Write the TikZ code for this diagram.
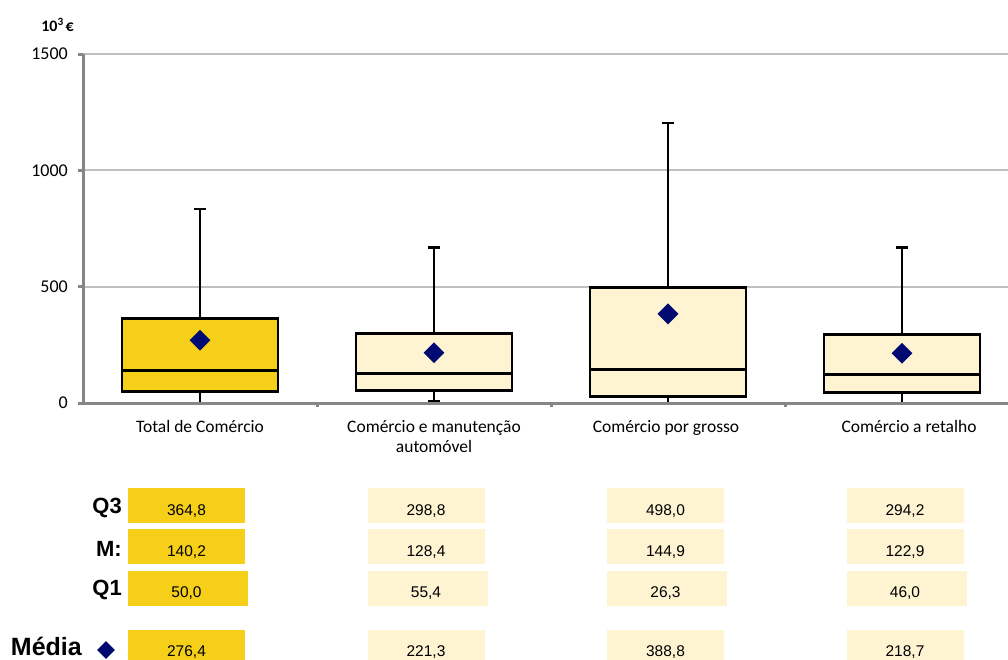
\documentclass[tikz,border=0pt]{standalone}
\usepackage{fontspec}
\setmainfont{Carlito}
\newfontfamily\arialf{Liberation Sans}
\usetikzlibrary{shapes.geometric}
\definecolor{darkyel}{HTML}{F6D018}
\definecolor{lightyel}{HTML}{FEF4D2}
\definecolor{navy}{HTML}{000A70}
\definecolor{gridgray}{HTML}{C0C0C0}
\definecolor{axisgray}{HTML}{868686}
\tikzset{
  gridline/.style={draw=gridgray, line width=2pt},
  axisline/.style={draw=axisgray, line width=3pt},
  boxline/.style={draw=black, line width=2.8pt},
  whisk/.style={draw=black, line width=2.2pt},
  meanmark/.style={diamond, fill=navy, draw=none, minimum width=21pt, minimum height=21pt, inner sep=0pt},
  ylab/.style={anchor=east, font=\fontsize{18}{20}\selectfont, inner sep=0pt},
  catlab/.style={align=center, font=\fontsize{17.5}{20}\selectfont, inner sep=0pt},
  rowlab/.style={anchor=east, font=\arialf\bfseries\fontsize{22}{24}\selectfont, inner sep=0pt},
  cellbox/.style={draw=none, inner sep=0pt, minimum width=117pt, minimum height=35pt},
  cellnum/.style={font=\arialf\fontsize{15.5}{17}\selectfont, inner sep=0pt}
}
\newcommand\yv[1]{403-0.23267*#1}
\newcommand\drawbxp[7]{%
  % #1 center x, #2 min, #3 q1, #4 median, #5 q3, #6 max, #7 fill
  \pgfmathsetmacro\ymin{\yv{#2}}
  \pgfmathsetmacro\yqa{\yv{#3}}
  \pgfmathsetmacro\ymed{\yv{#4}}
  \pgfmathsetmacro\yqc{\yv{#5}}
  \pgfmathsetmacro\ymax{\yv{#6}}
  \draw[whisk] (#1,\yqc) -- (#1,\ymax);
  \draw[whisk] (#1-6,\ymax) -- (#1+6,\ymax);
  \draw[whisk] (#1,\yqa) -- (#1,\ymin);
  \draw[whisk] (#1-6,\ymin) -- (#1+6,\ymin);
  \draw[boxline, fill=#7] (#1-78,\yqa) rectangle (#1+78,\yqc);
  \draw[boxline] (#1-78,\ymed) -- (#1+78,\ymed);
}
\begin{document}
\begin{tikzpicture}[x=1pt,y=-1pt]
\useasboundingbox (0,0) rectangle (1008,659);
% grid
\foreach \v in {500,1000,1500}{
  \pgfmathsetmacro\yy{\yv{\v}}
  \draw[gridline] (83,\yy) -- (1008,\yy);
  \draw[axisline] (78,\yy) -- (83,\yy);
}
% boxes
\drawbxp{200}{0}{50.0}{140.2}{364.8}{834}{darkyel}
\drawbxp{434}{8}{55.4}{128.4}{298.8}{668}{lightyel}
\drawbxp{668}{0}{26.3}{144.9}{498.0}{1203}{lightyel}
\drawbxp{902}{0}{46.0}{122.9}{294.2}{668}{lightyel}
% means
\node[meanmark] (m1) at (200,{\yv{270}}) {};
\node[meanmark] (m2) at (434,{\yv{216}}) {};
\node[meanmark] (m3) at (668,{\yv{383}}) {};
\node[meanmark] (m4) at (902,{\yv{214}}) {};
% axes
\draw[axisline] (83,54) -- (83,403);
\draw[axisline] (78,403) -- (1008,403);
\foreach \xx in {317,551,785}{\draw[axisline] (\xx,403) -- (\xx,407);}
% y labels
\node[ylab] (y0) at (68,403) {0};
\node[ylab] (y500) at (68,{\yv{500}}) {500};
\node[ylab] (y1000) at (68,{\yv{1000}}) {1000};
\node[ylab] (y1500) at (68,{\yv{1500}}) {1500};
\node[font=\bfseries\fontsize{16}{18}\selectfont, inner sep=0pt, anchor=east] (unit) at (74,25) {10\textsuperscript{3}\kern2pt€};
% category labels
\node[catlab, anchor=north] (c1) at (200,420) {Total de Comércio};
\node[catlab, anchor=north] (c2) at (434,420) {Comércio e manutenção\\automóvel};
\node[catlab, anchor=north] (c3) at (666,420) {Comércio por grosso};
\node[catlab, anchor=north] (c4) at (909,420) {Comércio a retalho};
% table row labels
\node[rowlab] (lq3) at (122,508) {Q3};
\node[rowlab] (lm) at (122,549) {M:};
\node[rowlab] (lq1) at (122,590) {Q1};
\node[rowlab, font=\arialf\bfseries\fontsize{25}{27}\selectfont] (lmed) at (82,646) {Média};
\node[meanmark, minimum width=18pt, minimum height=18pt] (lmd) at (106,650) {};
% table cells
\foreach \cx/\cl/\va/\vb/\vc/\vd [count=\i] in
  {186.5/darkyel/{364,8}/{140,2}/{50,0}/{276,4},
   426/lightyel/{298,8}/{128,4}/{55,4}/{221,3},
   665.5/lightyel/{498,0}/{144,9}/{26,3}/{388,8},
   905/lightyel/{294,2}/{122,9}/{46,0}/{218,7}}{
  \node[cellbox, fill=\cl] (q3\i) at (\cx,505.5) {};
  \node[cellbox, fill=\cl] (md\i) at (\cx,546.5) {};
  \node[cellbox, fill=\cl, minimum width=120pt] (q1\i) at (\cx+1.5,588.5) {};
  \node[cellbox, fill=\cl] (mn\i) at (\cx,647) {};
  \node[cellnum] (tq3\i) at (\cx,511) {\va};
  \node[cellnum] (tmd\i) at (\cx,552) {\vb};
  \node[cellnum] (tq1\i) at (\cx,593) {\vc};
  \node[cellnum] (tmn\i) at (\cx,652) {\vd};
}
\end{tikzpicture}
\end{document}
